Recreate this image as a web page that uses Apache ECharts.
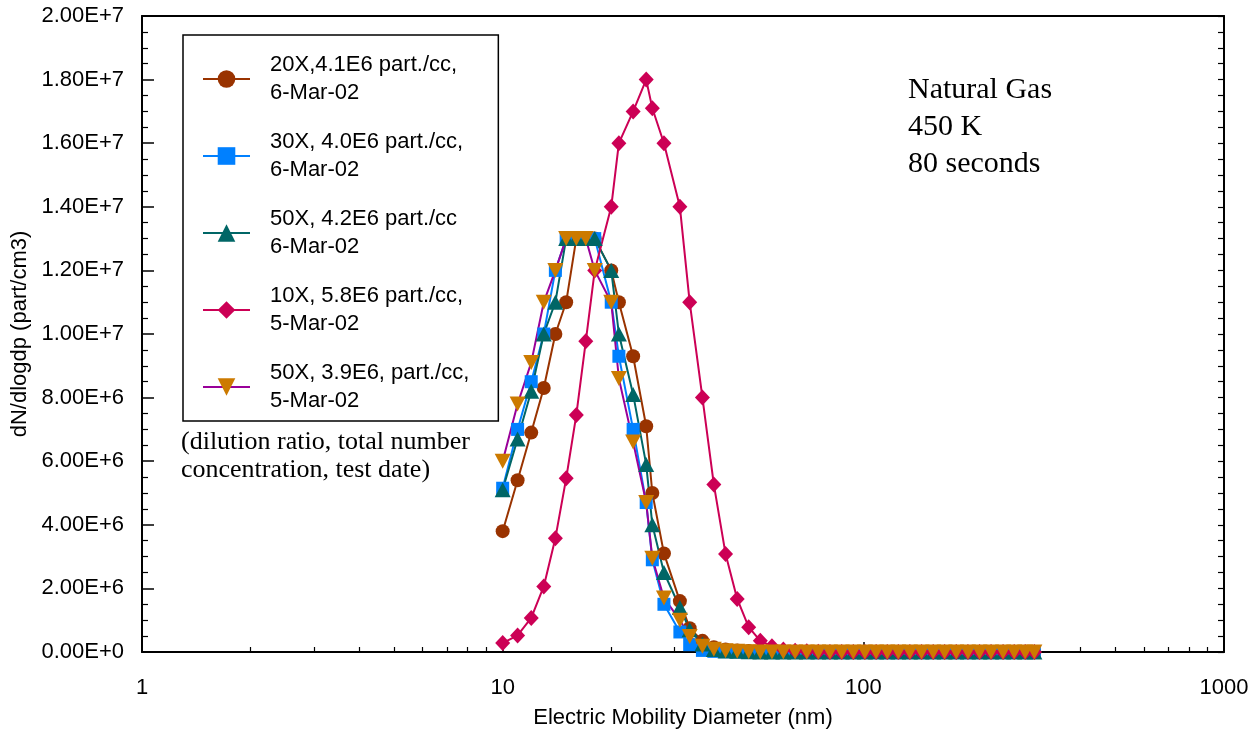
<!DOCTYPE html>
<html>
<head>
<meta charset="utf-8">
<script src="https://cdn.jsdelivr.net/npm/echarts@6/dist/echarts.min.js"></script>
<style>
  html, body { margin: 0; padding: 0; background: #fff; }
  #chart { width: 1260px; height: 731px; }
</style>
</head>
<body>
<div id="chart"></div>
<script>
// Electric mobility diameter bins (nm), shared by all runs
const diameters = [10, 11, 12, 13, 14, 15, 16, 17, 18, 20,
  21, 23, 25, 26, 28, 31, 33, 35.8, 38.5, 41.5,
  44.7, 48.1, 51.8, 55.8, 60, 64.7, 69.7, 75, 80.8, 87.1,
  93.8, 101, 108.5, 116.5, 125, 134.6, 145, 156.2, 168, 181,
  195, 210, 226, 244, 262, 281, 298];

// dN/dlogdp in units of 1E6 part/cm3
const UNIT = 1e6;
const run20x = [3.8, 5.4, 6.9, 8.3, 10.0, 11.0, 13.0, 13.0, 13.0, 12.0,
  11.0, 9.3, 7.1, 5.0, 3.1, 1.6, 0.75, 0.35, 0.15, 0.08,
  0.05, 0.03, 0.02, 0.01, 0, 0, 0, 0, 0, 0,
  0, 0, 0, 0, 0, 0, 0, 0, 0, 0,
  0, 0, 0, 0, 0, 0, 0];
const run30x = [5.15, 7.0, 8.5, 10.0, 12.0, 13.0, 13.0, 13.0, 13.0, 11.0,
  9.3, 7.0, 4.7, 2.9, 1.5, 0.63, 0.23, 0.05, 0.02, 0.01,
  0, 0, 0, 0, 0, 0, 0, 0, 0, 0,
  0, 0, 0, 0, 0, 0, 0, 0, 0, 0,
  0, 0, 0, 0, 0, 0, 0];
const run50xA = [5.1, 6.7, 8.2, 10.0, 11.0, 13.0, 13.0, 13.0, 13.0, 12.0,
  10.0, 8.1, 5.9, 4.0, 2.5, 1.4, 0.7, 0.25, 0.08, 0.03,
  0.02, 0.01, 0, 0, 0, 0, 0, 0, 0, 0,
  0, 0, 0, 0, 0, 0, 0, 0, 0, 0,
  0, 0, 0, 0, 0, 0, 0];
const run10x = [0.28, 0.52, 1.07, 2.06, 3.58, 5.46, 7.45, 9.77, 12.0, 14.0,
  16.0, 17.0, 18.0, 17.1, 16.0, 14.0, 11.0, 8.0, 5.27, 3.08,
  1.67, 0.78, 0.35, 0.18, 0.08, 0.04, 0.02, 0.01, 0, 0,
  0, 0, 0, 0, 0, 0, 0, 0, 0, 0,
  0, 0, 0, 0, 0, 0, 0];
const run50xB = [6.0, 7.8, 9.1, 11.0, 12.0, 13.0, 13.0, 13.0, 12.0, 11.0,
  8.6, 6.6, 4.7, 2.95, 1.7, 1.0, 0.49, 0.18, 0.09, 0.04,
  0.02, 0.01, 0, 0, 0, 0, 0, 0, 0, 0,
  0, 0, 0, 0, 0, 0, 0, 0, 0, 0,
  0, 0, 0, 0, 0, 0, 0];

const runNames = [
  '20X,4.1E6 part./cc,\n6-Mar-02',
  '30X, 4.0E6 part./cc,\n6-Mar-02',
  '50X, 4.2E6 part./cc\n6-Mar-02',
  '10X, 5.8E6 part./cc,\n5-Mar-02',
  '50X, 3.9E6, part./cc,\n5-Mar-02'
];

const xMajorTicks = [1, 10, 100, 1000];
const xMinorTicks = [2, 3, 4, 5, 6, 7, 8, 9, 20, 30, 40, 50, 60, 70, 80, 90,
  200, 300, 400, 500, 600, 700, 800, 900];

const SANS = '"Liberation Sans", Arial, sans-serif';
const SERIF = '"Liberation Serif", "Times New Roman", serif';

function toPairs(values) {
  return diameters.map((d, i) => [d, values[i] * UNIT]);
}

function sciLabel(v) {
  if (v === 0) return '0.00E+0';
  const e = Math.floor(Math.log10(v) + 1e-9);
  return (v / Math.pow(10, e)).toFixed(2) + 'E+' + e;
}

const downTriangle = 'path://M0,0 L10,0 L5,9 Z';

function makeSeries(name, values, symbol, size, markerColor, lineColor) {
  return {
    name: name,
    type: 'line',
    data: toPairs(values),
    symbol: symbol,
    symbolSize: size,
    showSymbol: true,
    clip: false,
    itemStyle: { color: markerColor },
    lineStyle: { color: lineColor, width: 2 },
    emphasis: { disabled: true }
  };
}

const frame = { show: true, lineStyle: { color: '#000', width: 2 } };

const chart = echarts.init(document.getElementById('chart'), null, { renderer: 'canvas' });

chart.setOption({
  animation: false,
  backgroundColor: '#fff',
  textStyle: { fontFamily: SANS },
  grid: { left: 142, right: 36, top: 16, bottom: 79, containLabel: false, outerBoundsMode: 'none' },
  xAxis: [
    {
      type: 'log', logBase: 10, min: 1, max: 1000, position: 'bottom',
      name: 'Electric Mobility Diameter (nm)', nameLocation: 'middle', nameGap: 55,
      nameTextStyle: { fontSize: 22, color: '#000', fontFamily: SANS },
      axisLine: Object.assign({ onZero: false }, frame),
      axisTick: { show: true, inside: true, length: 10, lineStyle: { color: '#000', width: 1.5 }, customValues: xMajorTicks },
      axisLabel: { fontSize: 22, color: '#000', margin: 25, fontFamily: SANS, customValues: xMajorTicks,
        formatter: v => String(Math.round(v)) },
      splitLine: { show: false }
    },
    {
      type: 'log', logBase: 10, min: 1, max: 1000, position: 'bottom',
      axisLine: { show: false, onZero: false },
      axisTick: { show: true, inside: true, length: 5, lineStyle: { color: '#000', width: 1.2 }, customValues: xMinorTicks },
      axisLabel: { show: false },
      splitLine: { show: false }
    },
    {
      type: 'log', logBase: 10, min: 1, max: 1000, position: 'top',
      axisLine: Object.assign({ onZero: false }, frame),
      axisTick: { show: false },
      axisLabel: { show: false },
      splitLine: { show: false }
    }
  ],
  yAxis: [
    {
      type: 'value', min: 0, max: 2e7, interval: 2e6, position: 'left',
      name: 'dN/dlogdp (part/cm3)', nameLocation: 'middle', nameGap: 104,
      nameTextStyle: { fontSize: 22, color: '#000', fontFamily: SANS },
      axisLine: Object.assign({ onZero: false }, frame),
      axisTick: { show: true, inside: true, length: 12, lineStyle: { color: '#000', width: 1.5 } },
      minorTick: { show: true, splitNumber: 4, length: 6, lineStyle: { color: '#000', width: 1.2 } },
      axisLabel: { fontSize: 22, color: '#000', margin: 18, formatter: sciLabel, fontFamily: SANS },
      splitLine: { show: false }
    },
    {
      type: 'value', min: 0, max: 2e7, interval: 2e6, position: 'right',
      axisLine: Object.assign({ onZero: false }, frame),
      axisTick: { show: true, inside: true, length: 6, lineStyle: { color: '#000', width: 1.2 } },
      minorTick: { show: true, splitNumber: 4, length: 6, lineStyle: { color: '#000', width: 1.2 } },
      axisLabel: { show: false },
      splitLine: { show: false }
    }
  ],
  legend: {
    orient: 'vertical',
    left: 183, top: 35,
    padding: [16, 29, 6, 19],
    itemWidth: 47, itemHeight: 22, itemGap: 21,
    backgroundColor: '#fff',
    borderColor: '#000', borderWidth: 1.5, borderRadius: 0,
    textStyle: { fontSize: 22, lineHeight: 28, color: '#000', fontFamily: SANS, padding: [0, 0, 0, 15] },
    selectedMode: false,
    data: runNames
  },
  graphic: [
    {
      type: 'text', left: 908, top: 72, z: 100,
      style: { text: 'Natural Gas\n450 K\n80 seconds', font: '30px ' + SERIF, lineHeight: 37, fill: '#000' }
    },
    {
      type: 'text', left: 181, top: 428, z: 100,
      style: { text: '(dilution ratio, total number\nconcentration, test date)', font: '26px ' + SERIF, lineHeight: 28, fill: '#000' }
    }
  ],
  series: [
    makeSeries(runNames[0], run20x, 'circle', 14, '#993300', '#993300'),
    makeSeries(runNames[1], run30x, 'rect', 13, '#0080FF', '#0080FF'),
    makeSeries(runNames[2], run50xA, 'triangle', [16, 15], '#006666', '#006666'),
    makeSeries(runNames[3], run10x, 'diamond', [15, 16], '#CC0055', '#CC0055'),
    makeSeries(runNames[4], run50xB, downTriangle, [16, 15], '#CC7A00', '#990099')
  ]
});
</script>
</body>
</html>
